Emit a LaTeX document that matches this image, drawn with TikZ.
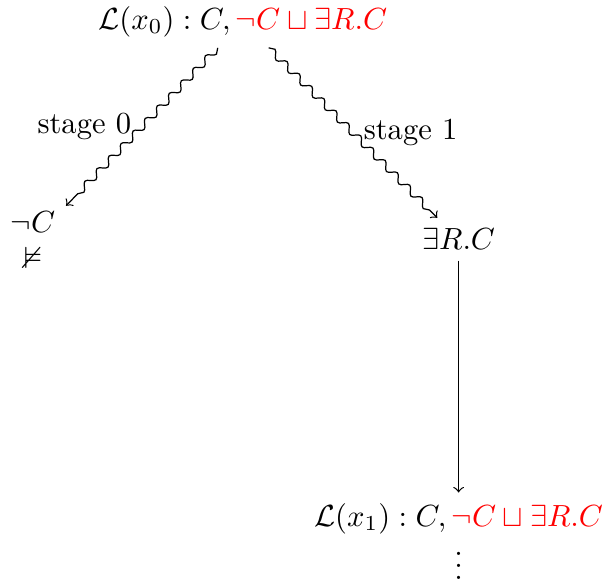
\documentclass[tikz,border=0pt]{standalone}
\usepackage{amssymb}
\usetikzlibrary{decorations.pathmorphing}
\begin{document}
\begin{tikzpicture}[
  squig/.style={->,decorate,decoration={snake,amplitude=.4mm,segment length=2mm,post length=1mm}}
]
  \useasboundingbox (0,0) rectangle (7.01,-6.66);
  \node (x0) at (2.79,-0.25) {$\mathcal{L}(x_0) : C, \textcolor{red}{\neg C \sqcup \exists R.C}$};
  \node[align=center] (clash) at (0.38,-2.76) {$\neg C$\\$\nvDash$};
  \node (ex) at (5.27,-2.75) {$\exists R.C$};
  \node (x1) at (5.27,-5.96) {$\mathcal{L}(x_1) : C, \textcolor{red}{\neg C \sqcup \exists R.C}$};
  \node (dots) at (5.27,-6.40) {$\vdots$};
  \draw[squig] (x0) -- node[midway,left] {stage 0} (clash);
  \draw[squig] (x0) -- node[midway,right] {stage 1} (ex);
  \draw[->] (ex) -- (x1);
\end{tikzpicture}
\end{document}
